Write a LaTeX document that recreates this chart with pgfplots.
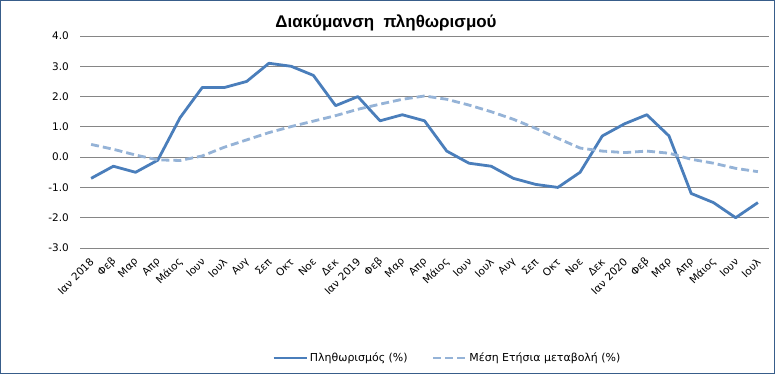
\documentclass[border=0pt]{standalone}
\usepackage{fontspec}
\setmainfont{DejaVu Sans}
\newfontfamily\titlefont{Liberation Sans}
\usepackage{pgfplots}
\usepackage{pgfplotstable}
\pgfplotsset{compat=1.18}
\definecolor{mainblue}{RGB}{74,126,187}
\definecolor{lightblue}{RGB}{149,179,215}
\definecolor{gridgray}{RGB}{134,134,134}
\definecolor{frameblue}{RGB}{56,93,138}

\pgfplotstableread{
x infl avg
0 -0.7 0.42
1 -0.3 0.26
2 -0.5 0.07
3 -0.1 -0.09
4 1.3 -0.11
5 2.3 0.04
6 2.3 0.33
7 2.5 0.57
8 3.1 0.81
9 3.0 1.01
10 2.7 1.19
11 1.7 1.37
12 2.0 1.58
13 1.2 1.75
14 1.4 1.91
15 1.2 2.02
16 0.2 1.91
17 -0.2 1.72
18 -0.3 1.50
19 -0.7 1.25
20 -0.9 0.95
21 -1.0 0.62
22 -0.5 0.30
23 0.7 0.20
24 1.1 0.15
25 1.4 0.20
26 0.7 0.13
27 -1.2 -0.07
28 -1.5 -0.20
29 -2.0 -0.37
30 -1.5 -0.48
}\datatable

\begin{document}
\begin{tikzpicture}[x=1bp,y=1bp]
\useasboundingbox (0,0) rectangle (775,374);
\fill[white] (0,0) rectangle (775,374);
\draw[frameblue, line width=1.5bp] (0.75,0.75) rectangle (774.25,373.25);
\node[font=\titlefont\bfseries\fontsize{17}{20}\selectfont, anchor=base, inner sep=0pt] at (386,347) {Διακύμανση\ \ πληθωρισμού};
\begin{axis}[
  at={(80bp,126bp)}, anchor=south west,
  scale only axis, width=689bp, height=212bp,
  xmin=-0.5, xmax=30.5, ymin=-3, ymax=4,
  ytick={-3,-2,...,4},
  xtick={0,...,30},
  xticklabels={Ιαν 2018,Φεβ,Μαρ,Απρ,Μάιος,Ιουν,Ιουλ,Αυγ,Σεπ,Οκτ,Νοε,Δεκ,Ιαν 2019,Φεβ,Μαρ,Απρ,Μάιος,Ιουν,Ιουλ,Αυγ,Σεπ,Οκτ,Νοε,Δεκ,Ιαν 2020,Φεβ,Μαρ,Απρ,Μάιος,Ιουν,Ιουλ},
  axis line style={draw=none},
  tick style={draw=none},
  major tick length=0pt,
  ymajorgrids,
  grid style={gridgray, line width=0.9bp},
  tick label style={font=\fontsize{10.5}{12}\selectfont},
  yticklabel style={anchor=east, inner sep=0pt, xshift=-11bp,
    /pgf/number format/.cd, fixed, fixed zerofill, precision=1, assume math mode=true},
  xticklabel style={yshift=-12bp, xshift=1bp, rotate=45, anchor=east, inner sep=0pt},
  legend style={at={(0.533,-0.519)}, anchor=center, draw=none, fill=none,
    legend columns=2, font=\fontsize{11}{13}\selectfont,
    /tikz/every even column/.append style={column sep=22bp}},
  legend image code/.code={\draw[#1] (0bp,0bp) -- (33bp,0bp);},
  clip=false,
]
\addplot[mainblue, line width=2.8bp, line join=round] table[x=x, y=infl] {\datatable};
\addlegendentry{Πληθωρισμός (\%)}
\addplot[lightblue, line width=2.8bp, dash pattern=on 8bp off 4bp, line join=round] table[x=x, y=avg] {\datatable};
\addlegendentry{Μέση Ετήσια μεταβολή (\%)}
\end{axis}
\end{tikzpicture}
\end{document}
